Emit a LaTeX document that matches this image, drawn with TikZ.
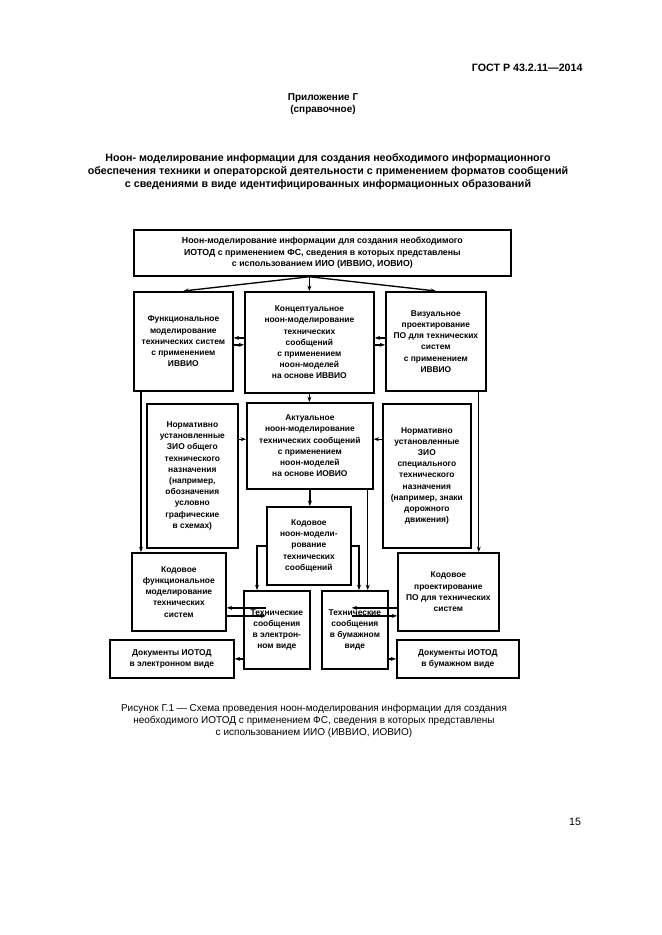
\documentclass[tikz,border=0pt]{standalone}
\usepackage{fontspec}
\setmainfont{Liberation Sans}
\usetikzlibrary{arrows.meta}

\tikzset{every picture/.style={line width=0.75pt}}
\tikzset{
	blk/.style={draw, line width=1.3pt, align=center, inner sep=0pt, anchor=north west,
		font=\bfseries\fontsize{6.3}{8.4}\selectfont},
	sz/.style 2 args={minimum width=#1*0.75pt, minimum height=#2*0.75pt},
	arr/.style={line width=1pt, -{Stealth[length=4pt,width=3pt]}},
	txt/.style={inner sep=0pt, align=center},
}

\begin{document}
\begin{tikzpicture}[x=0.75pt,y=0.75pt,yscale=-1,xscale=1]
	\useasboundingbox (0,0) rectangle (661,935);
	\fill[white] (0,0) rectangle (661,935);
	
	% Page head
	\node[txt, anchor=east, font=\bfseries\fontsize{8}{10}\selectfont] (gost) at (583,68) {ГОСТ Р 43.2.11—2014};
	\node[txt, font=\bfseries\fontsize{7.5}{9}\selectfont] (annex) at (323,104) {Приложение Г\\(справочное)};
	\node[txt, font=\bfseries\fontsize{8}{9.8}\selectfont] (title) at (328,172) {Ноон- моделирование информации для создания необходимого информационного\\обеспечения техники и операторской деятельности с применением форматов сообщений\\с сведениями в виде идентифицированных информационных образований};
	
	% Boxes
	\node[blk, sz={377}{46}, font=\bfseries\fontsize{6.6}{8.6}\selectfont] (top) at (133,229) {Ноон-моделирование информации для создания необходимого\\ИОТОД с применением ФС, сведения в которых представлены\\с использованием ИИО (ИВВИО, ИОВИО)};
	\node[blk, sz={99}{99}] (funcmod) at (133,291) {Функциональное\\моделирование\\технических систем\\с применением\\ИВВИО};
	\node[blk, sz={129}{101}] (concmod) at (244,291) {Концептуальное\\ноон-моделирование\\технических\\сообщений\\с применением\\ноон-моделей\\на основе ИВВИО};
	\node[blk, sz={100}{99}] (vismod) at (385,291) {Визуальное\\проектирование\\ПО для технических\\систем\\с применением\\ИВВИО};
	\node[blk, sz={91}{144}] (normgen) at (146,403) {Нормативно\\установленные\\ЗИО общего\\технического\\назначения\\(например,\\обозначения\\условно\\графические\\в схемах)};
	\node[blk, sz={126}{86}] (actmod) at (246,402) {Актуальное\\ноон-моделирование\\технических сообщений\\с применением\\ноон-моделей\\на основе ИОВИО};
	\node[blk, sz={88}{144}] (normspec) at (382,403) {Нормативно\\установленные\\ЗИО\\специального\\технического\\назначения\\(например, знаки\\дорожного\\движения)};
	\node[blk, sz={84}{78}] (codemsg) at (266,506) {Кодовое\\ноон-модели-\\рование\\технических\\сообщений};
	\node[blk, sz={94}{78}] (codefunc) at (131,552) {Кодовое\\функциональное\\моделирование\\технических\\систем};
	\node[blk, sz={101}{78}] (codeprog) at (397,552) {Кодовое\\проектирование\\ПО для технических\\систем};
	\node[blk, sz={66}{78}] (msgel) at (243,590) {Технические\\сообщения\\в электрон-\\ном виде};
	\node[blk, sz={66}{78}] (msgpap) at (321,590) {Технические\\сообщения\\в бумажном\\виде};
	\node[blk, sz={124}{38}] (docel) at (109,639) {Документы ИОТОД\\в электронном виде};
	\node[blk, sz={122}{38}] (docpap) at (396,639) {Документы ИОТОД\\в бумажном виде};
	
	% Connectors
	\draw[arr] (concmod.north |- top.south) -- (concmod.north);
	\draw[arr] (concmod.north |- top.south) -- (funcmod.north);
	\draw[arr] (concmod.north |- top.south) -- (vismod.north);
	\draw[arr] ([yshift=2.6pt]funcmod.east) -- ([yshift=2.6pt]funcmod.east -| concmod.west);
	\draw[arr] ([yshift=-2.6pt]funcmod.east -| concmod.west) -- ([yshift=-2.6pt]funcmod.east);
	\draw[arr] ([yshift=2.6pt]vismod.west -| concmod.east) -- ([yshift=2.6pt]vismod.west);
	\draw[arr] ([yshift=-2.6pt]vismod.west) -- ([yshift=-2.6pt]vismod.west -| concmod.east);
	\draw[arr] (concmod.south) -- (concmod.south |- actmod.north);
	\draw[arr] ([yshift=-5pt]actmod.west -| normgen.east) -- ([yshift=-5pt]actmod.west);
	\draw[arr] ([yshift=-5pt]actmod.east -| normspec.west) -- ([yshift=-5pt]actmod.east);
	\draw[arr] (actmod.south) -- (actmod.south |- codemsg.north);
	\draw[arr] ([xshift=-4.5pt]actmod.south east) -- ([xshift=-4.5pt]actmod.south east |- msgpap.north);
	\draw[arr] (codemsg.west) -| ([xshift=10.5pt]msgel.north west);
	\draw[arr] (codemsg.east) -| ([xshift=28.5pt]msgpap.north west);
	\draw[arr] ([yshift=18pt]codefunc.east) -- ([yshift=18pt]codefunc.east -| codemsg.west);
	\draw[arr] ([yshift=12pt]codefunc.east -| codemsg.west) -- ([yshift=12pt]codefunc.east);
	\draw[arr] ([yshift=18pt]codeprog.west -| codemsg.east) -- ([yshift=18pt]codeprog.west);
	\draw[arr] ([yshift=12pt]codeprog.west) -- ([yshift=12pt]codeprog.west -| codemsg.east);
	\draw[arr] ([xshift=6pt]funcmod.south west) -- ([xshift=6pt]funcmod.south west |- codefunc.north);
	\draw[arr] ([xshift=-6pt]vismod.south east) -- ([xshift=-6pt]vismod.south east |- codeprog.north);
	\draw[arr] (docel.east -| msgel.west) -- (docel.east);
	\draw[arr] (docpap.west -| msgpap.east) -- (docpap.west);
	
	% Caption and page number
	\node[txt, font=\fontsize{7.5}{9}\selectfont] (caption) at (314,721) {Рисунок Г.1 — Схема проведения ноон-моделирования информации для создания\\необходимого ИОТОД с применением ФС, сведения в которых представлены\\с использованием ИИО (ИВВИО, ИОВИО)};
	\node[txt, font=\fontsize{8}{10}\selectfont] (pagenum) at (575,822) {15};
\end{tikzpicture}
\end{document}
